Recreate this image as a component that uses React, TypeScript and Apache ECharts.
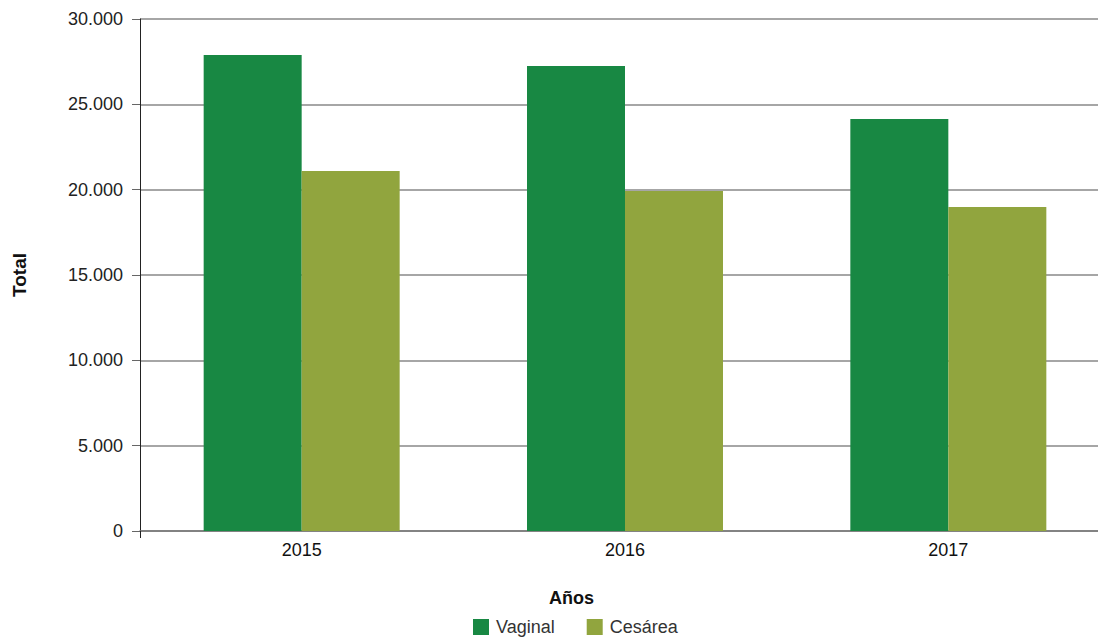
import React, { useEffect, useRef } from "react";
import * as echarts from "echarts";

const categories = ["2015", "2016", "2017"];
const vaginal = [27890, 27250, 24140];
const cesarea = [21090, 19920, 18980];
const seriesNames = ["Vaginal", "Cesárea"];
const xAxisTitle = "Años";
const yAxisTitle = "Total";

export default function App() {
  const ref = useRef<HTMLDivElement>(null);
  useEffect(() => {
    const chart = echarts.init(ref.current!, null, { renderer: "svg" });
    const fmt = (v: number) => v.toLocaleString("de-DE");
    const font = "Liberation Sans, Arial, sans-serif";
    chart.setOption({
      animation: false,
      textStyle: { fontFamily: font },
      title: {
        text: xAxisTitle,
        left: 549,
        top: 589,
        padding: 0,
        textStyle: { fontSize: 18, fontWeight: "bold", color: "#111", fontFamily: font },
      },
      grid: { left: 140, right: 0, top: 19, bottom: 109 },
      legend: {
        top: 613,
        left: 468,
        itemWidth: 16,
        itemHeight: 16,
        itemGap: 32,
        icon: "rect",
        textStyle: { fontSize: 18, color: "#333", fontFamily: font, padding: [0, 0, 0, 2] },
        data: seriesNames,
      },
      graphic: [
        { type: "rect", left: 1098, top: 0, shape: { width: 12, height: 640 }, style: { fill: "#fff" }, z: 100 },
      ],
      xAxis: {
        type: "category",
        data: categories,
        axisLine: { lineStyle: { color: "#777", width: 1.5 } },
        axisTick: { show: true, interval: (i: number) => i === 0, length: 7, lineStyle: { color: "#222" } },
        axisLabel: { fontSize: 18, color: "#111", margin: 10 },
      },
      yAxis: {
        type: "value",
        min: 0,
        max: 30000,
        interval: 5000,
        name: yAxisTitle,
        nameLocation: "middle",
        nameGap: 111,
        nameTextStyle: { fontSize: 19, fontWeight: "bold", color: "#111" },
        axisLine: { show: true, lineStyle: { color: "#222", width: 1 } },
        axisTick: { show: true, length: 8, lineStyle: { color: "#666" } },
        axisLabel: { fontSize: 18, color: "#222", margin: 17, formatter: (v: number) => fmt(v) },
        splitLine: { lineStyle: { color: "#888", width: 1.5 } },
      },
      series: [
        {
          name: seriesNames[0],
          type: "bar",
          data: vaginal,
          barWidth: 98,
          barGap: "0%",
          itemStyle: { color: "#188843" },
        },
        {
          name: seriesNames[1],
          type: "bar",
          data: cesarea,
          barWidth: 98,
          barGap: "0%",
          itemStyle: { color: "#91a53e" },
        },
      ],
    });
    return () => chart.dispose();
  }, []);
  return (
    <div style={{ width: 1100, height: 640, position: "absolute", left: 0, top: 0, overflow: "hidden" }}>
      <div ref={ref} style={{ width: 1110, height: 640 }} />
    </div>
  );
}
